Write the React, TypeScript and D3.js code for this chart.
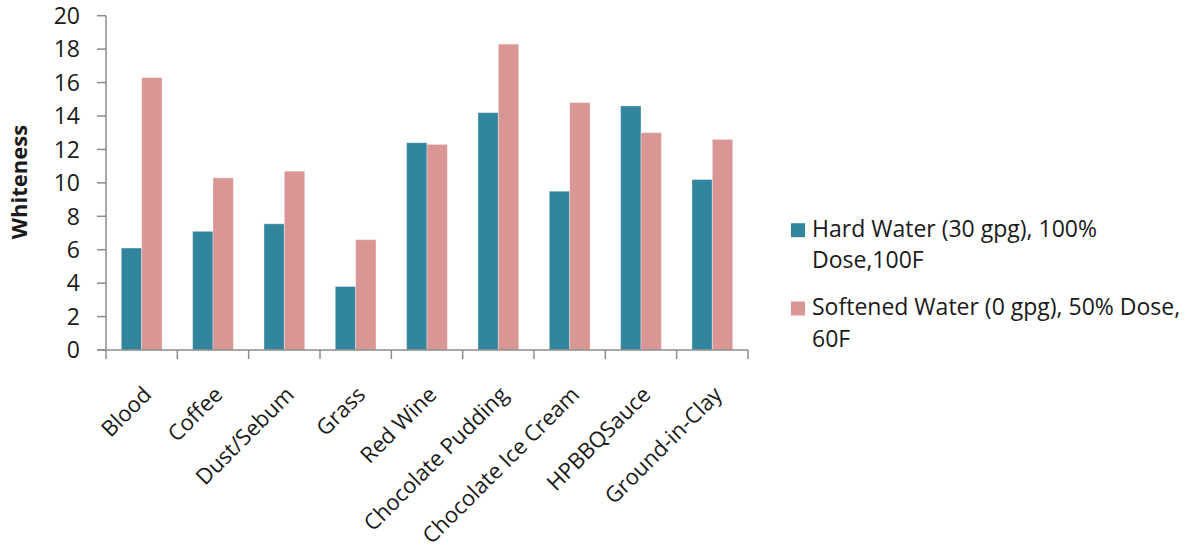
import React from "react";
import * as d3 from "d3";

const categories = ["Blood", "Coffee", "Dust/Sebum", "Grass", "Red Wine", "Chocolate Pudding", "Chocolate Ice Cream", "HPBBQSauce", "Ground-in-Clay"];
const hardWater = [6.1, 7.1, 7.55, 3.8, 12.4, 14.2, 9.5, 14.6, 10.2];
const softWater = [16.3, 10.3, 10.7, 6.6, 12.3, 18.3, 14.8, 13.0, 12.6];
const seriesNames = ["Hard Water (30 gpg), 100%|Dose,100F", "Softened Water (0 gpg), 50% Dose,|60F"];
const seriesColors = ["#31859C", "#D99694"];
const yTicks = [0, 2, 4, 6, 8, 10, 12, 14, 16, 18, 20];

const W = 1195;
const H = 551;
const FONT = "'Open Sans', 'Noto Sans', sans-serif";
const AXIS = "#8c8c8c";
const FS = 23;
const LFS = 22;

export default function App() {
  const x0 = d3.scaleBand<string>().domain(categories).range([106, 748]).paddingInner(0).paddingOuter(0);
  const x1 = d3.scaleBand<number>().domain([0, 1]).range([0, x0.bandwidth()]).paddingInner(0).paddingOuter(0.75);
  const y = d3.scaleLinear().domain([0, 20]).range([350, 15.7]);
  const series = [hardWater, softWater];
  const boundaries = d3.range(categories.length + 1).map((i) => 106 + i * x0.step());

  return (
    <svg width={W} height={H} style={{ display: "block", position: "absolute", left: 0, top: 0, background: "#fff" }}>
      <rect x={0} y={0} width={W} height={H} fill="#fff" />
      {/* bars */}
      {categories.map((c, ci) => (
        <g key={c}>
          {series.map((s, si) => (
            <rect
              key={si}
              x={(x0(c) as number) + (x1(si) as number)}
              y={y(s[ci])}
              width={x1.bandwidth()}
              height={y(0) - y(s[ci])}
              fill={seriesColors[si]}
              stroke="#ffffff"
              strokeOpacity={0.35}
              strokeWidth={1}
            />
          ))}
        </g>
      ))}
      {/* y axis */}
      <line x1={106} x2={106} y1={y(20)} y2={y(0)} stroke={AXIS} strokeWidth={1.5} />
      {yTicks.map((t) => (
        <g key={t}>
          <line x1={97} x2={106} y1={y(t)} y2={y(t)} stroke={AXIS} strokeWidth={1.5} />
          <text x={80} y={y(t)} dy="0.36em" textAnchor="end" fontFamily={FONT} fontSize={FS} fill="#1a1a1a">
            {t}
          </text>
        </g>
      ))}
      {/* x axis */}
      <line x1={97} x2={748} y1={y(0)} y2={y(0)} stroke={AXIS} strokeWidth={1.5} />
      {boundaries.map((b, i) => (
        <line key={i} x1={b} x2={b} y1={y(0)} y2={y(0) + 9} stroke={AXIS} strokeWidth={1.5} />
      ))}
      {categories.map((c) => {
        const cx = (x0(c) as number) + x0.bandwidth() / 2 + 11;
        const cy = 396;
        return (
          <text
            key={c}
            transform={`translate(${cx},${cy}) rotate(-45)`}
            textAnchor="end"
            fontFamily={FONT}
            fontSize={LFS}
            fill="#1a1a1a"
          >
            {c}
          </text>
        );
      })}
      {/* y title */}
      <text
        transform={`translate(27,182) rotate(-90)`}
        textAnchor="middle"
        fontFamily={FONT}
        fontWeight="bold"
        fontSize={22}
        fill="#1a1a1a"
      >
        Whiteness
      </text>
      {/* legend */}
      {seriesNames.map((name, i) => {
        const base = i === 0 ? 236.7 : 315;
        const lines = name.split("|");
        return (
          <g key={i}>
            <rect x={791} y={base - 13.5} width={14} height={14} fill={seriesColors[i]} />
            {lines.map((l, li) => (
              <text key={li} x={812} y={base + li * 31.7} fontFamily={FONT} fontSize={FS} fill="#1a1a1a">
                {l}
              </text>
            ))}
          </g>
        );
      })}
    </svg>
  );
}
